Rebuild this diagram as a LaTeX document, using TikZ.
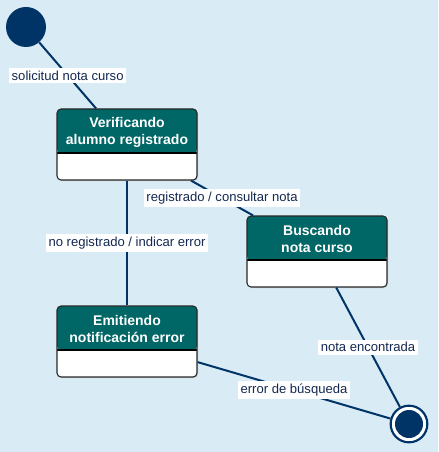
\documentclass[tikz,border=0pt]{standalone}
\usepackage{fontspec}
\setmainfont{Liberation Sans}
\usetikzlibrary{shadows}
\definecolor{bgc}{RGB}{217,235,245}
\definecolor{navy}{RGB}{0,51,102}
\definecolor{hdr}{RGB}{0,102,102}
\definecolor{lbltext}{RGB}{20,40,80}
\definecolor{bord}{RGB}{40,40,40}
\tikzset{
  statebox/.style={draw=bord, line width=0.8pt, rounded corners=3pt, fill=white,
    minimum width=105pt, minimum height=53.25pt, inner sep=0pt,
    drop shadow={opacity=0.25, shadow xshift=0.8pt, shadow yshift=-0.8pt},
    path picture={
      \fill[hdr] (path picture bounding box.north west) rectangle ([yshift=-33pt]path picture bounding box.east |- path picture bounding box.north);
      \draw[black, line width=0.8pt] ([yshift=-33pt]path picture bounding box.north west) -- ([yshift=-33pt]path picture bounding box.north east);
    }},
  hdrtext/.style={text=white, font=\bfseries\fontsize{10.5}{12.8}\selectfont, align=center, inner sep=0pt},
  lbl/.style={fill=white, text=lbltext, font=\fontsize{9.8}{11}\selectfont, inner sep=2pt},
  conn/.style={navy, line width=1.5pt},
  initst/.style={circle, fill=navy, minimum size=30pt, inner sep=0pt},
  finalst/.style={circle, draw=navy, line width=1.6pt, fill=white, minimum size=27.5pt, inner sep=0pt,
    path picture={\fill[navy] (path picture bounding box.center) circle (10.5pt);}}
}
\begin{document}
\begin{tikzpicture}[x=0.75pt,y=-0.75pt]
\fill[bgc] (0,0) rectangle (438,452);
\useasboundingbox (0,0) rectangle (438,452);

\node[initst] (i) at (26,27) {};
\node[statebox] (v) at (127,144.5) {};
\node[hdrtext] (vt) at (127,132) {Verificando\\alumno registrado};
\node[statebox] (b) at (317,251.5) {};
\node[hdrtext] (bt) at (317,239) {Buscando\\nota curso};
\node[statebox] (e) at (127,341.5) {};
\node[hdrtext] (et) at (127,329) {Emitiendo\\notificación error};
\node[finalst] (f) at (409,424) {};

\draw[conn] (i) -- (v) node[lbl, midway] {solicitud nota curso};
\draw[conn] (v) -- (b) node[lbl, midway] {registrado / consultar nota};
\draw[conn] (v) -- (e) node[lbl, midway] {no registrado / indicar error};
\draw[conn] (b) -- (f) node[lbl, midway] {nota encontrada};
\draw[conn] (e) -- (f) node[lbl, midway] {error de búsqueda};
\end{tikzpicture}
\end{document}
